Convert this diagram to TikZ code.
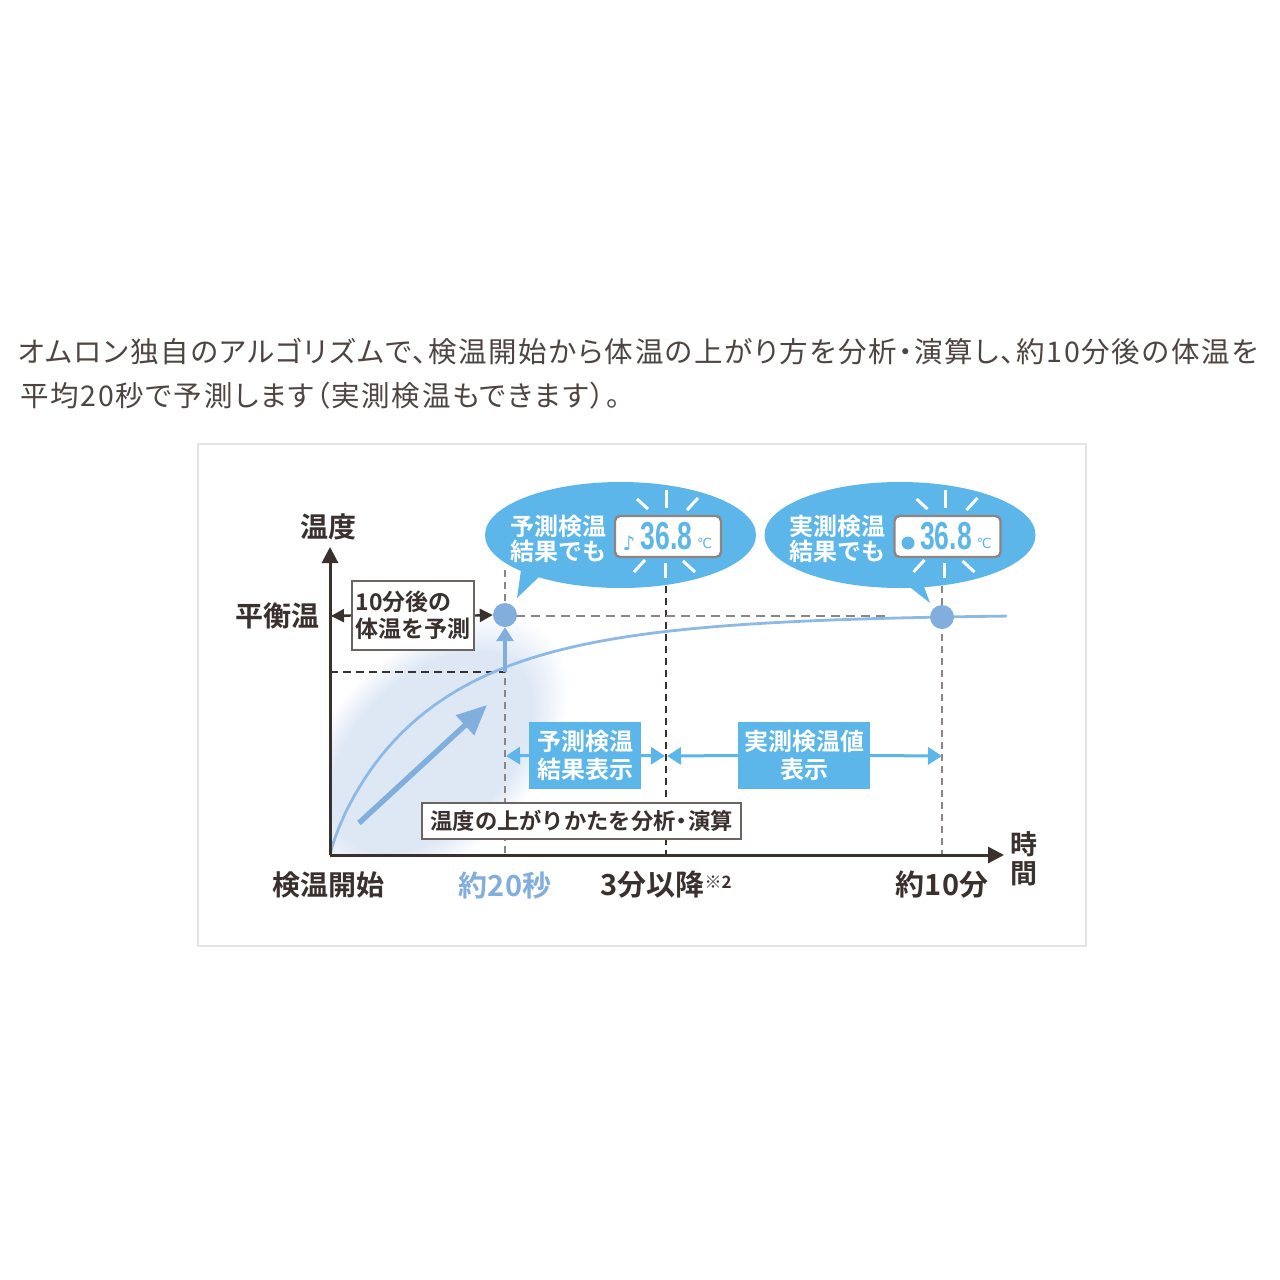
\documentclass[tikz,border=0pt]{standalone}
\usepackage{fontspec}
\setmainfont{Noto Sans CJK JP}
\newfontfamily\jpr[RawFeature=+palt,LetterSpace=6]{Noto Sans CJK JP}
\newfontfamily\jpb[BoldFont={Noto Sans CJK JP Bold}]{Noto Sans CJK JP Bold}
\newfontfamily\lat{Liberation Sans Bold}
\newfontfamily\djv{DejaVu Sans}
\usetikzlibrary{arrows.meta,shapes.geometric}
\definecolor{ink}{HTML}{3A302D}
\definecolor{grayd}{HTML}{8C8583}
\definecolor{sky}{HTML}{5CB6E9}
\definecolor{steel}{HTML}{82AEDD}
\definecolor{curvec}{HTML}{8DB9E6}
\definecolor{frameg}{HTML}{E4E4E4}
\definecolor{blob}{HTML}{DDE7F5}
\tikzset{
 x=1pt,y=-1pt,
 lab/.style={inner sep=0pt,text=ink,font=\jpb\fontsize{28}{30}\selectfont},
 labn/.style={inner sep=0pt,text=ink,font=\jpb\fontsize{29}{30}\selectfont},
 boxw/.style={draw=ink!75,line width=1.6pt,fill=white,inner sep=0pt,text=ink},
 boxb/.style={fill=sky,inner sep=0pt,align=center,text=white,font=\jpb\fontsize{24}{28}\selectfont},
 bubtxt/.style={inner sep=0pt,align=center,text=white,font=\jpb\fontsize{24}{25}\selectfont},
 lcd/.style={draw=grayd,line width=2.4pt,fill=white,rounded corners=5pt},
 ray/.style={draw=white,line width=3pt},
 dashg/.style={draw=grayd,line width=2.6pt,dash pattern=on 7pt off 5pt},
 dashh/.style={draw=grayd,line width=2.6pt,dash pattern=on 9pt off 6pt},
 dashk/.style={draw=ink,line width=1.8pt,dash pattern=on 7pt off 5pt},
 axisline/.style={draw=ink,line width=3pt},
 blk/.style={draw=ink,line width=2.4pt,-{Triangle[length=13pt,width=13pt]}},
 blu/.style={draw=sky,line width=3pt,-{Triangle[length=14pt,width=17pt]}},
 dot/.style={circle,fill=steel,minimum size=24pt,inner sep=0pt},
}
\newcommand{\lcdunit}[3]{%
 \begin{scope}[shift={(#1,0)}]
  \fill[sky] (620.5,535) ellipse [x radius=135.5,y radius=53];
  \draw[ray] (666,490)--(666,508);
  \draw[ray] (637,499)--(648,509);
  \draw[ray] (698,498)--(687,510);
  \draw[ray] (645,560)--(634,572);
  \draw[ray] (665,563)--(665,578);
  \draw[ray] (683,561)--(695,572);
  \draw[lcd] (615,516) rectangle (721,557);
  #3
  \node[inner sep=0pt,text=sky] at (666.5,536) {\lat\fontsize{39}{39}\selectfont\scalebox{0.68}[1]{36.8}};
  \node[inner sep=0pt,text=sky] at (704.5,543) {\djv\fontsize{14}{14}\selectfont\scalebox{0.95}[1]{℃}};
  \node[bubtxt] at (558,538.5) {#2};
 \end{scope}}
\begin{document}
\begin{tikzpicture}
\useasboundingbox (0,0) rectangle (1280,1280);
\fill[white] (0,0) rectangle (1280,1280);
% heading
\node[anchor=base west,inner sep=0pt,text=ink!90] (line1) at (18,362) {\jpr\fontsize{28.5}{30}\selectfont オムロン独自のアルゴリズムで、検温開始から体温の上がり方を分析・演算し、約10分後の体温を};
\node[anchor=base west,inner sep=0pt,text=ink!90] (line2) at (20,406) {\jpr\fontsize{28.5}{30}\selectfont 平均20秒で予測します（実測検温もできます）。};
% frame
\draw[frameg,line width=2pt] (198,444) rectangle (1086,946);
% glow under curve: nested ellipses from pale rim to full tone
\begin{scope}
 \clip (331,480) rectangle (640,855);
 \foreach \k in {0,1,...,24}{
  \pgfmathsetmacro{\mixv}{4*\k}
  \pgfmathsetmacro{\sc}{1-0.26*\k/24}
  \fill[blob!\mixv!white,rotate around={45:(432,752)}] (432,752) ellipse [x radius=165*\sc,y radius=102*\sc];
 }
\end{scope}
% guides
\draw[dashg] (505,570) -- (505,855);
\draw[dashk] (666,586) -- (666,855);
\draw[dashg] (942,586) -- (942,855);
\draw[dashk,dash pattern=on 8pt off 5pt] (330,672) -- (505,672);
\draw[dashh] (516,616) -- (890,616);
% curve
\draw[curvec,line width=2.8pt,line cap=round] plot[domain=0.3:676,samples=320,smooth] (\x+330,{855-241*(1-exp(-pow(\x/108,0.85)))});
% axes
\coordinate (origin) at (330,855);
\coordinate (ytop) at (330,547);
\coordinate (xend) at (1004,855);
\draw[axisline,-{Triangle[length=16pt,width=16pt]}] (origin) -- (ytop);
\draw[axisline,-{Triangle[length=16pt,width=16pt]}] (origin) -- (xend);
% rise arrow
\coordinate (riseA) at (359,823);
\coordinate (riseB) at (487,705);
\draw[steel,line width=5.5pt,-{Triangle[length=30pt,width=26pt]}] (riseA) -- (riseB);
% bubbles
\fill[sky] (517,598) -- (521,570) -- (540,576) -- cycle;
\fill[sky] (930,603) -- (906,584) -- (923,584) -- cycle;
\lcdunit{0}{予測検温\\結果でも}{\node[inner sep=0pt,text=sky] at (629,543) {\djv\fontsize{20}{20}\selectfont ♪};}
\lcdunit{279.5}{実測検温\\結果でも}{\fill[sky] (628.5,543) circle (6.5);}
% dots
\node[dot] (d1) at (505,615) {};
\node[dot] (d2) at (942,617) {};
\coordinate (riseFoot) at (505,672);
\draw[steel,line width=3.4pt,-{Triangle[length=14pt,width=17pt]}] (riseFoot) -- (d1.south);
% labels
\node[lab] (t1) at (328,527) {温度};
\node[lab] (t2) at (277,616) {平衡温};
\node[boxw,minimum width=122pt,minimum height=69pt,align=left,font=\jpb\fontsize{23}{27}\selectfont] (pred) at (413,615.5) {10分後の\\体温を予測};
\coordinate (axL) at (331,616);
\draw[blk] (pred.west) -- (axL);
\draw[blk] (pred.east) -- (d1.west);
% info boxes
\node[boxb,minimum width=112pt,minimum height=67pt] (bA) at (585,755.5) {予測検温\\結果表示};
\node[boxb,minimum width=132pt,minimum height=67pt] (bB) at (804,755.5) {実測検温値\\表示};
\coordinate (p20) at (506,756);
\coordinate (p3a) at (665,756);
\coordinate (p3b) at (667,756);
\coordinate (p10) at (942,756);
\draw[blu] (bA.west) -- (p20);
\draw[blu] (bA.east) -- (p3a);
\draw[blu] (bB.west) -- (p3b);
\draw[blu] (bB.east) -- (p10);
\node[boxw,minimum width=319pt,minimum height=36pt,font=\jpb\fontsize{22.3}{24}\selectfont] (ana) at (581.5,821) {温度の上がりかたを分析\kern-5pt・\kern-5pt演算};
% axis ticks
\node[lab] (x0) at (328,885) {検温開始};
\node[labn,text=steel] (x1) at (505,885) {約20秒};
\node[labn] (x2) at (666,885) {3分以降\raisebox{7pt}{\fontsize{17}{17}\selectfont ※2}};
\node[labn] (x3) at (942,885) {約10分};
\node[lab,align=center,font=\jpb\fontsize{27}{29}\selectfont] (xt) at (1024,859) {時\\間};
\end{tikzpicture}
\end{document}
